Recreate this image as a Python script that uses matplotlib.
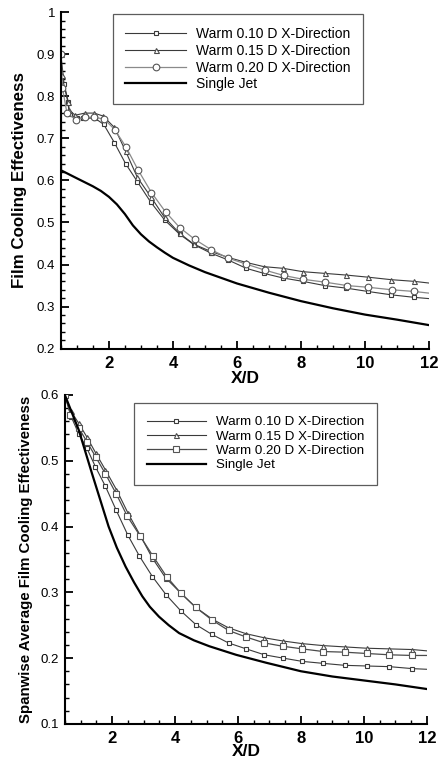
import matplotlib
matplotlib.use('Agg')
import matplotlib.pyplot as plt
from matplotlib.ticker import MultipleLocator, FuncFormatter

plt.rcParams['font.family'] = ['Liberation Sans', 'DejaVu Sans']

labels = ['Warm 0.10 D X-Direction', 'Warm 0.15 D X-Direction',
          'Warm 0.20 D X-Direction', 'Single Jet']

# top panel: film cooling effectiveness
top_x10 = [0.5, 0.6, 0.73, 0.78, 0.99, 1.19, 1.56, 1.84, 2.17, 2.52, 2.89, 3.31, 3.74, 4.21, 4.66, 5.19,
           5.72, 6.29, 6.84, 7.44, 8.06, 8.74, 9.41, 10.09, 10.82, 11.54, 12.0]
top_y10 = [0.90, 0.83, 0.787, 0.758, 0.748, 0.748, 0.748, 0.733, 0.69, 0.64, 0.597, 0.548, 0.506, 0.472,
           0.447, 0.427, 0.411, 0.391, 0.379, 0.368, 0.36, 0.35, 0.344, 0.336, 0.328, 0.322, 0.319]
top_x15 = [0.5, 0.53, 0.72, 0.75, 0.95, 1.25, 1.54, 1.82, 2.17, 2.52, 2.89, 3.31, 3.74, 4.21, 4.66, 5.19,
           5.72, 6.29, 6.84, 7.44, 8.06, 8.74, 9.41, 10.09, 10.82, 11.54, 12.0]
top_y15 = [0.9, 0.85, 0.786, 0.767, 0.755, 0.76, 0.76, 0.753, 0.726, 0.67, 0.607, 0.561, 0.512, 0.474,
           0.448, 0.431, 0.417, 0.405, 0.395, 0.391, 0.383, 0.379, 0.375, 0.37, 0.364, 0.36, 0.356]
top_x20 = [0.5, 0.55, 0.69, 0.97, 1.25, 1.54, 1.85, 2.18, 2.53, 2.91, 3.33, 3.77, 4.21, 4.68, 5.2,
           5.73, 6.29, 6.86, 7.46, 8.06, 8.76, 9.44, 10.09, 10.84, 11.54, 12.0]
top_y20 = [0.9, 0.82, 0.76, 0.744, 0.75, 0.75, 0.746, 0.721, 0.68, 0.625, 0.571, 0.525, 0.488, 0.46,
           0.435, 0.415, 0.401, 0.387, 0.374, 0.365, 0.358, 0.35, 0.346, 0.34, 0.336, 0.332]
top_xs = [0.5, 0.505, 1.0, 1.5, 1.75, 2.0, 2.25, 2.5, 2.75, 3.0, 3.25, 3.5, 3.75, 4.0, 4.5, 5.0, 6.0,
          7.0, 8.0, 9.0, 10.0, 11.0, 12.0]
top_ys = [0.9, 0.624, 0.605, 0.586, 0.575, 0.561, 0.543, 0.52, 0.493, 0.472, 0.455, 0.441, 0.428,
          0.416, 0.398, 0.382, 0.355, 0.333, 0.313, 0.296, 0.281, 0.269, 0.256]

# bottom panel: spanwise average
bot_x10 = [0.5, 0.7, 0.95, 1.2, 1.47, 1.79, 2.13, 2.5, 2.87, 3.28, 3.72, 4.18, 4.66, 5.17, 5.7, 6.26,
           6.84, 7.43, 8.04, 8.7, 9.39, 10.09, 10.81, 11.54, 12.0]
bot_y10 = [0.6, 0.567, 0.54, 0.519, 0.491, 0.461, 0.425, 0.387, 0.355, 0.324, 0.296, 0.272, 0.251,
           0.236, 0.223, 0.214, 0.205, 0.2, 0.195, 0.192, 0.189, 0.188, 0.187, 0.184, 0.183]
bot_x15 = [0.5, 0.7, 0.94, 1.2, 1.49, 1.79, 2.14, 2.51, 2.9, 3.28, 3.7, 4.18, 4.66, 5.19, 5.7, 6.26,
           6.82, 7.43, 8.04, 8.7, 9.39, 10.09, 10.81, 11.54, 12.0]
bot_y15 = [0.6, 0.575, 0.557, 0.536, 0.511, 0.486, 0.456, 0.42, 0.386, 0.352, 0.322, 0.299, 0.277,
           0.259, 0.246, 0.237, 0.231, 0.226, 0.222, 0.219, 0.217, 0.215, 0.214, 0.213, 0.211]
bot_x20 = [0.5, 0.68, 0.94, 1.2, 1.49, 1.79, 2.14, 2.48, 2.9, 3.3, 3.73, 4.18, 4.66, 5.17, 5.7, 6.26,
           6.84, 7.43, 8.04, 8.7, 9.39, 10.09, 10.81, 11.54, 12.0]
bot_y20 = [0.6, 0.57, 0.55, 0.529, 0.505, 0.48, 0.449, 0.416, 0.385, 0.355, 0.324, 0.299, 0.277,
           0.258, 0.242, 0.232, 0.223, 0.218, 0.214, 0.21, 0.209, 0.207, 0.205, 0.204, 0.204]
bot_xs = [0.5, 0.94, 1.36, 1.89, 2.15, 2.43, 2.7, 2.96, 3.2, 3.49, 3.8, 4.13, 4.6, 5.09, 5.94, 6.89,
          8.0, 9.0, 10.0, 11.0, 12.0]
bot_ys = [0.6, 0.547, 0.481, 0.4, 0.368, 0.339, 0.315, 0.294, 0.278, 0.263, 0.25, 0.238, 0.227,
          0.218, 0.205, 0.193, 0.18, 0.172, 0.166, 0.16, 0.153]

fig = plt.figure(figsize=(4.41, 7.58), dpi=100)
ax1 = fig.add_axes([0.138, 0.540, 0.835, 0.444])
ax2 = fig.add_axes([0.147, 0.045, 0.821, 0.434])


def draw(ax, data, c20, big20):
    (x10, y10), (x15, y15), (x20, y20), (xs, ys) = data
    ax.plot(x10, y10, color='#3a3a3a', lw=0.8, marker='s', ms=3, mfc='white', mec='#3a3a3a',
            mew=0.8, markevery=list(range(len(x10) - 1)), label=labels[0])
    ax.plot(x15, y15, color='#3a3a3a', lw=0.8, marker='^', ms=3.6, mfc='white', mec='#4a4a4a',
            mew=0.8, markevery=list(range(len(x15) - 1)), label=labels[1])
    ax.plot(x20, y20, color=c20, lw=0.9, marker=big20, ms=4.8, mfc='white', mec='#555555',
            mew=0.8, markevery=list(range(len(x20) - 1)), label=labels[2])
    ax.plot(xs, ys, color='black', lw=1.6, label=labels[3])
    ax.set_xlim(0.5, 12)
    ax.xaxis.set_major_locator(MultipleLocator(2))
    ax.xaxis.set_minor_locator(MultipleLocator(0.5))
    ax.yaxis.set_major_locator(MultipleLocator(0.1))
    ax.yaxis.set_minor_locator(MultipleLocator(0.02))
    ax.yaxis.set_major_formatter(FuncFormatter(lambda v, p: '%g' % round(v, 2)))
    ax.spines['top'].set_visible(False)
    ax.spines['right'].set_visible(False)
    ax.spines['left'].set_linewidth(1.5)
    ax.spines['bottom'].set_linewidth(1.5)
    ax.tick_params(which='major', direction='in', length=6, width=1.3, pad=4)
    ax.tick_params(which='minor', direction='in', length=3, width=1.0)
    ax.tick_params(axis='x', labelsize=12, pad=5)
    ax.tick_params(axis='y', labelsize=9.5)
    for t in ax.get_xticklabels():
        t.set_fontweight('bold')
    ax.set_xlabel('X/D', fontsize=12.5, fontweight='bold', labelpad=-1)


draw(ax1, [(top_x10, top_y10), (top_x15, top_y15), (top_x20, top_y20), (top_xs, top_ys)],
     '#8a8a8a', 'o')
ax1.set_ylim(0.2, 1.0)
ax1.set_ylabel('Film Cooling Effectiveness', fontsize=12.2, fontweight='bold')
ax1.yaxis.set_label_coords(-0.092, 0.5)
ax1.xaxis.set_label_coords(0.5, -0.065)
leg1 = ax1.legend(loc='upper left', bbox_to_anchor=(0.141, 0.993), fontsize=10, frameon=True,
                  fancybox=False, handlelength=4.4, handletextpad=0.7, borderpad=0.9,
                  labelspacing=0.2, borderaxespad=0)
leg1.get_frame().set_edgecolor('#333333')
leg1.get_frame().set_linewidth(0.9)

draw(ax2, [(bot_x10, bot_y10), (bot_x15, bot_y15), (bot_x20, bot_y20), (bot_xs, bot_ys)],
     '#4a4a4a', 's')
ax2.set_ylim(0.1, 0.6)
ax2.set_ylabel('Spanwise Average Film Cooling Effectiveness', fontsize=10.8, fontweight='bold')
ax2.yaxis.set_label_coords(-0.088, 0.5)
leg2 = ax2.legend(loc='upper left', bbox_to_anchor=(0.19, 0.976), fontsize=9.6, frameon=True,
                  fancybox=False, handlelength=4.4, handletextpad=0.75, borderpad=1.0,
                  labelspacing=0.15, borderaxespad=0)
leg2.get_frame().set_edgecolor('#333333')
leg2.get_frame().set_linewidth(0.9)

fig.savefig('out.png', dpi=100)
